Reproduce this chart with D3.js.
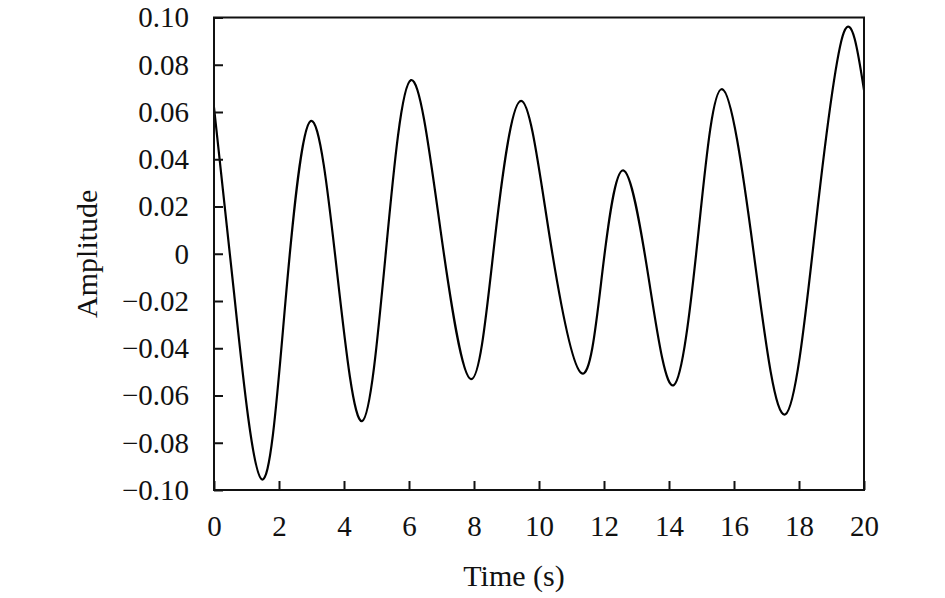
<!DOCTYPE html>
<html>
<head>
<meta charset="utf-8">
<script src="https://cdn.jsdelivr.net/npm/d3@7"></script>
<style>
  html, body { margin: 0; padding: 0; background: #fff; }
  svg { display: block; }
  text { font-family: "Liberation Serif", "Times New Roman", serif; fill: #111; }
</style>
</head>
<body>
<svg id="chart" width="945" height="598"></svg>
<script>
// values
const timeVals = [0, 0.62, 1.47, 2.20, 2.975, 3.78, 4.56, 5.29, 6.06, 6.97, 7.91, 8.64, 9.45,
                  10.33, 11.31, 11.95, 12.59, 13.37, 14.15, 14.89, 15.63, 16.60, 17.58, 18.52, 19.38, 20];
const ampVals = [0.062, -0.017, -0.0955, -0.020, 0.0562, -0.007, -0.0708, 0.001, 0.0735, 0.010, -0.0531, 0.006, 0.0647,
                 0.007, -0.0506, -0.0077, 0.0353, -0.010, -0.0556, 0.007, 0.0697, 0.001, -0.068, 0.013, 0.0937, 0.0693];
const xTicks = [0, 2, 4, 6, 8, 10, 12, 14, 16, 18, 20];
const yTicks = [-0.10, -0.08, -0.06, -0.04, -0.02, 0, 0.02, 0.04, 0.06, 0.08, 0.10];
const yTickLabels = ["\u22120.10", "\u22120.08", "\u22120.06", "\u22120.04", "\u22120.02", "0", "0.02", "0.04", "0.06", "0.08", "0.10"];

const data = timeVals.map((t, i) => ({ t: t, a: ampVals[i] }));

const svg = d3.select("#chart");
const width = +svg.attr("width");
const height = +svg.attr("height");
const margin = { top: 17.5, right: 81, bottom: 108, left: 214 };

const x = d3.scaleLinear()
    .domain([0, 20])
    .range([margin.left, width - margin.right]);

const y = d3.scaleLinear()
    .domain([-0.10, 0.10])
    .range([height - margin.bottom, margin.top]);

// curve
const line = d3.line()
    .x(d => x(d.t))
    .y(d => y(d.a))
    .curve(d3.curveNatural);

svg.append("clipPath")
    .attr("id", "clip")
    .append("rect")
    .attr("x", margin.left)
    .attr("y", margin.top)
    .attr("width", x(20) - margin.left)
    .attr("height", y(-0.10) - margin.top);

svg.append("path")
    .datum(data)
    .attr("clip-path", "url(#clip)")
    .attr("fill", "none")
    .attr("stroke", "#000")
    .attr("stroke-width", 2.2)
    .attr("d", line);

// X-axis
const xAxis = svg.append("g")
    .attr("transform", `translate(0,${y(-0.10)})`)
    .call(d3.axisBottom(x).tickValues(xTicks).tickSize(-9).tickPadding(25).tickFormat(d3.format("d")));

// Y-axis
const yAxis = svg.append("g")
    .attr("transform", `translate(${x(0)},0)`)
    .call(d3.axisLeft(y).tickValues(yTicks).tickSize(-9).tickPadding(25)
        .tickFormat((d, i) => yTickLabels[i]));

[xAxis, yAxis].forEach(g => {
    g.select(".domain").remove();
    g.selectAll("line").attr("stroke", "#111").attr("stroke-width", 2);
    g.selectAll("text")
        .style("font-family", '"Liberation Serif", "Times New Roman", serif')
        .style("font-size", "29px")
        .attr("fill", "#111");
});

// frame
svg.append("rect")
    .attr("x", x(0))
    .attr("y", y(0.10))
    .attr("width", x(20) - x(0))
    .attr("height", y(-0.10) - y(0.10))
    .attr("fill", "none")
    .attr("stroke", "#111")
    .attr("stroke-width", 2);

// axis titles
svg.append("text")
    .attr("x", 514)
    .attr("y", 586)
    .attr("text-anchor", "middle")
    .style("font-size", "30px")
    .text("Time (s)");

svg.append("text")
    .attr("transform", `translate(97,${y(0)}) rotate(-90)`)
    .attr("text-anchor", "middle")
    .style("font-size", "30px")
    .text("Amplitude");
</script>
</body>
</html>
